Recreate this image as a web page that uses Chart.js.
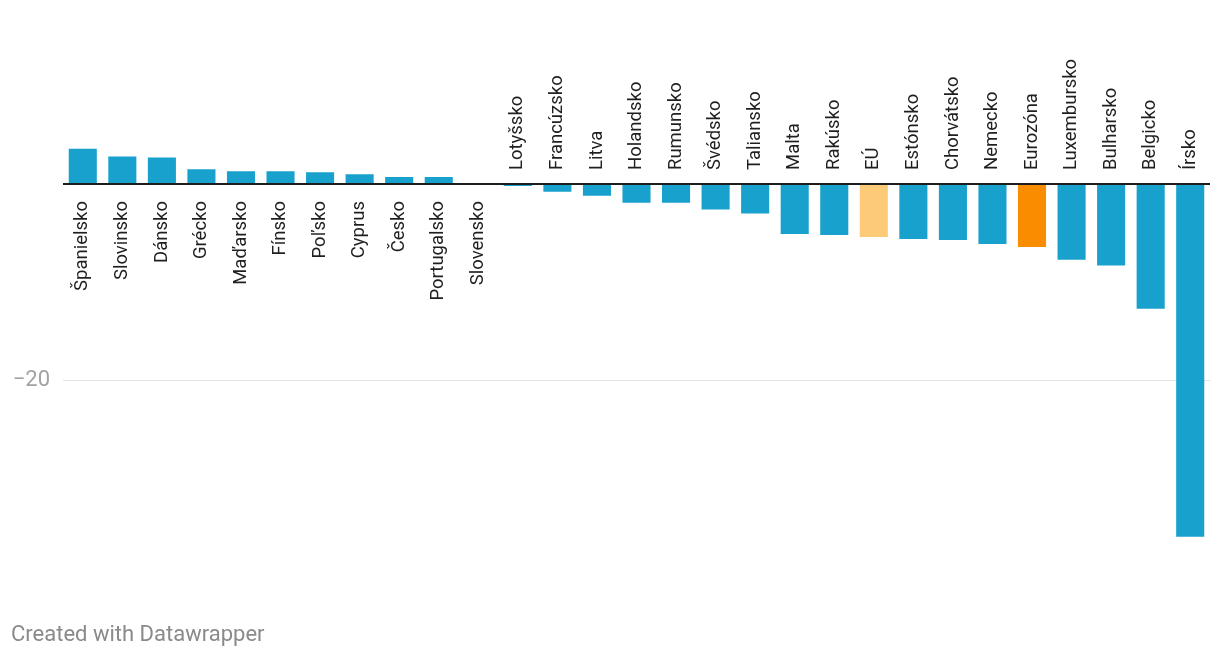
<!DOCTYPE html>
<html>
<head>
<meta charset="utf-8">
<script src="https://cdn.jsdelivr.net/npm/chart.js@4.4.1/dist/chart.umd.min.js"></script>
<style>
  html, body { margin: 0; padding: 0; background: #fff; }
  #wrap { position: relative; width: 1220px; height: 658px; }
</style>
</head>
<body>
<div id="wrap"><canvas id="chart" width="1220" height="658"></canvas></div>
<script>
// Data
const countries = [
  "Španielsko", "Slovinsko", "Dánsko", "Grécko", "Maďarsko", "Fínsko", "Poľsko",
  "Cyprus", "Česko", "Portugalsko", "Slovensko", "Lotyšsko", "Francúzsko", "Litva",
  "Holandsko", "Rumunsko", "Švédsko", "Taliansko", "Malta", "Rakúsko", "EÚ",
  "Estónsko", "Chorvátsko", "Nemecko", "Eurozóna", "Luxembursko", "Bulharsko",
  "Belgicko", "Írsko"
];
const values = [
  3.6, 2.8, 2.7, 1.5, 1.3, 1.3, 1.2, 1.0, 0.7, 0.7, 0,
  -0.2, -0.8, -1.2, -1.9, -1.9, -2.6, -3.0, -5.1, -5.2, -5.4,
  -5.6, -5.7, -6.1, -6.4, -7.7, -8.3, -12.7, -35.9
];
const yTicks = [-20, 0];
const yTickLabels = ["−20", ""];

const BLUE = "#18a1cd";
const barColors = countries.map((c) =>
  c === "EÚ" ? "#fdcb78" : c === "Eurozóna" ? "#fa8c00" : BLUE
);

// Zero baseline drawn over the bars, category labels sitting on it
const baselineLabels = {
  id: "baselineLabels",
  afterDatasetsDraw(chart) {
    const { ctx, chartArea, scales } = chart;
    const y0 = scales.y.getPixelForValue(0);

    ctx.save();
    ctx.fillStyle = "#1d1d1d";
    ctx.fillRect(chartArea.left, y0 - 1, chartArea.right - chartArea.left, 2);

    ctx.font = "18.5px Roboto";
    ctx.fillStyle = "#1f1f1f";
    ctx.textBaseline = "middle";
    countries.forEach((name, i) => {
      const x = scales.x.getPixelForValue(i);
      ctx.save();
      if (values[i] >= 0) {
        ctx.translate(x, y0 + 17);
        ctx.rotate(-Math.PI / 2);
        ctx.textAlign = "right";
      } else {
        ctx.translate(x, y0 - 14);
        ctx.rotate(-Math.PI / 2);
        ctx.textAlign = "left";
      }
      ctx.fillText(name, 0, 0);
      ctx.restore();
    });

    // footer
    ctx.font = "22px Roboto";
    ctx.fillStyle = "#8a8a8a";
    ctx.textAlign = "left";
    ctx.textBaseline = "alphabetic";
    ctx.fillText("Created with Datawrapper", 11, 641);
    ctx.restore();
  },
};

new Chart(document.getElementById("chart"), {
  type: "bar",
  data: {
    labels: countries,
    datasets: [
      {
        data: values,
        backgroundColor: barColors,
        borderWidth: 0,
        barPercentage: 0.71,
        categoryPercentage: 1,
      },
    ],
  },
  options: {
    responsive: false,
    animation: false,
    events: [],
    layout: {
      padding: { top: 85.75, bottom: 81, left: 0, right: 10 },
    },
    plugins: {
      legend: { display: false },
      tooltip: { enabled: false },
    },
    scales: {
      x: {
        display: false,
      },
      y: {
        min: -40,
        max: 10,
        afterBuildTicks(scale) {
          scale.ticks = yTicks.map((v) => ({ value: v }));
        },
        afterFit(scale) {
          scale.width = 63;
        },
        border: { display: false },
        grid: {
          drawTicks: false,
          color: (ctx) => (ctx.tick && ctx.tick.value === 0 ? "rgba(0,0,0,0)" : "#e3e3e3"),
          lineWidth: 1,
        },
        ticks: {
          padding: 13,
          color: "#a3a3a3",
          font: { family: "Roboto", size: 22 },
          callback: (v) => yTickLabels[yTicks.indexOf(v)] ?? "",
        },
      },
    },
  },
  plugins: [baselineLabels],
});
</script>
</body>
</html>
